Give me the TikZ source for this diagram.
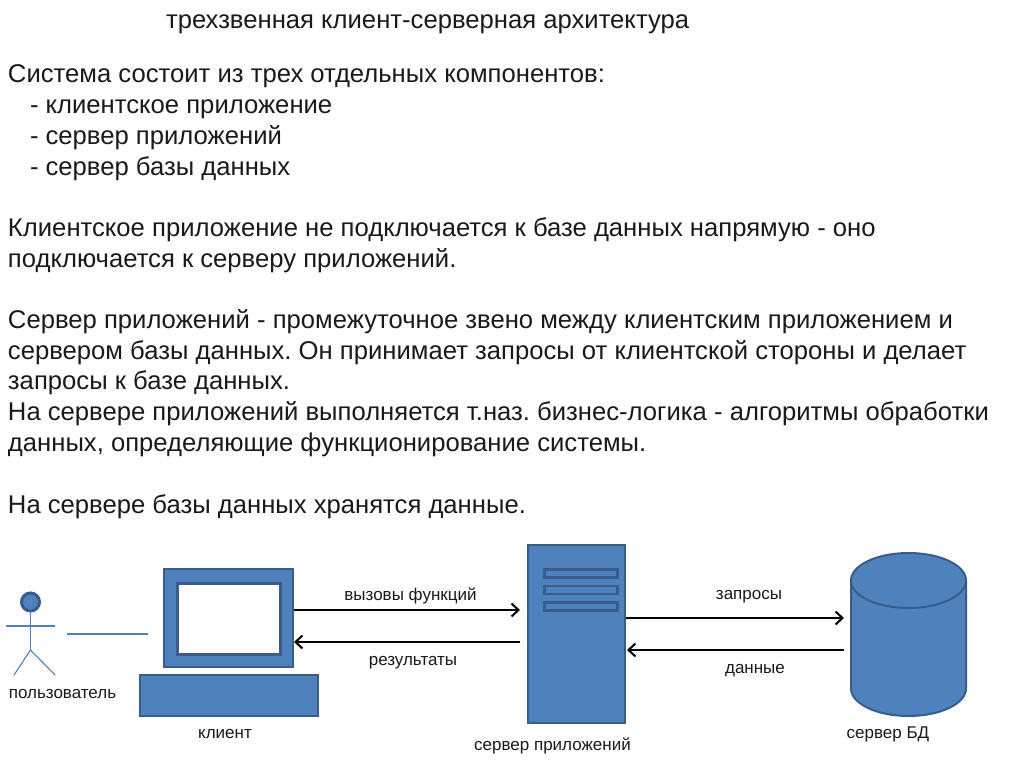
\documentclass[tikz,border=0pt]{standalone}
\usepackage{fontspec}
\setmainfont{Liberation Sans}
\usepackage{xcolor}
\usetikzlibrary{positioning,arrows.meta}
\definecolor{unitfill}{HTML}{4F81BD}
\definecolor{unitline}{HTML}{385D8A}
\definecolor{inktext}{HTML}{1A1A1A}
\frenchspacing

\begin{document}
\begin{tikzpicture}[
    x=1pt, y=-1pt,
    every node/.style={text=inktext, inner sep=0pt, outer sep=0pt},
    unit/.style={draw=unitline, line width=2pt, fill=unitfill},
    screen/.style={draw=unitline, line width=3pt, fill=white},
    slot/.style={draw=unitline, line width=2.6pt, fill=unitfill,
                 minimum width=73pt, minimum height=8pt},
    stick/.style={draw=unitfill, line width=1.1pt},
    arr/.style={-{Straight Barb[length=7pt,width=13pt]}, line width=2pt, black},
    para/.style={font=\fontsize{25.65}{30.7}\selectfont\frenchspacing, align=left, anchor=north west},
    lbl/.style={font=\fontsize{17}{20}\selectfont},
]
  \useasboundingbox (0,0) rectangle (1024,767);
  \fill[white] (0,0) rectangle (1024,767);
  % Text
  \node[para] (title) at (166,15) {трехзвенная клиент-серверная архитектура};
  \node[para] (parts) at (8,65) {Система состоит из трех отдельных компонентов:\\
    \hspace*{22pt}- клиентское приложение\\
    \hspace*{22pt}- сервер приложений\\
    \hspace*{22pt}- сервер базы данных};
  \node[para] (direct) at (8,218) {Клиентское приложение не подключается к базе данных напрямую - оно\\
    подключается к серверу приложений.};
  \node[para] (middle) at (8,309.5) {Сервер приложений - промежуточное звено между клиентским приложением и\\
    сервером базы данных. Он принимает запросы от клиентской стороны и делает\\
    запросы к базе данных.\\
    На сервере приложений выполняется т.наз. бизнес-логика - алгоритмы обработки\\
    данных, определяющие функционирование системы.};
  \node[para] (store) at (8,495) {На сервере базы данных хранятся данные.};
  % User
  \node[unit, circle, line width=3pt, minimum size=18pt] (head) at (30.5,602) {};
  \coordinate (hip) at (30.5,650);
  \coordinate (armL) at (6,626);
  \coordinate (armR) at (55,626);
  \coordinate (legL) at (14,675);
  \coordinate (legR) at (55,675);
  \draw[stick] (head) -- (hip);
  \draw[stick] (armL) -- (armR);
  \draw[stick] (legL) -- (hip) -- (legR);
  \node[lbl] (userlbl) at (62.5,694) {пользователь};
  \coordinate (userend) at (67,634);
  \coordinate (clientend) at (148,634);
  \draw[stick] (userend) -- (clientend);
  % Client
  \node[unit, minimum width=129pt, minimum height=98pt] (monitor) at (228.5,618) {};
  \node[screen, minimum width=103pt, minimum height=71pt] (display) at (229,619) {};
  \node[unit, minimum width=178pt, minimum height=41pt] (keyboard) at (229,695.5) {};
  \node[lbl] (clientlbl) at (225,734) {клиент};
  % Application server
  \node[unit, minimum width=97pt, minimum height=178pt] (appserver) at (576.5,634) {};
  \node[slot] (slot1) at (581,573.5) {};
  \node[slot, below=8.5pt of slot1] (slot2) {};
  \node[slot, below=8.5pt of slot2] (slot3) {};
  \node[lbl] (applbl) at (552.5,746) {сервер приложений};
  % Database
  \draw[unit, line join=round] (851,580.5) arc[start angle=180, end angle=360, x radius=57.5, y radius=27.5]
    -- (966,688.5) arc[start angle=0, end angle=180, x radius=57.5, y radius=27.5] -- cycle;
  \draw[draw=unitline, line width=2pt] (851,580.5) arc[start angle=180, end angle=0, x radius=57.5, y radius=27.5];
  \node[lbl] (dblbl) at (888,734) {сервер БД};
  % Arrows
  \coordinate (callA) at (294,610);
  \coordinate (callB) at (520,610);
  \coordinate (backA) at (520,642);
  \coordinate (backB) at (294,642);
  \coordinate (askA) at (626,618);
  \coordinate (askB) at (844,618);
  \coordinate (dataA) at (844,650);
  \coordinate (dataB) at (627,650);
  \draw[arr] (callA) -- (callB);
  \draw[arr] (backA) -- (backB);
  \draw[arr] (askA) -- (askB);
  \draw[arr] (dataA) -- (dataB);
  % Labels
  \node[lbl] (calllbl) at (410.5,596) {вызовы функций};
  \node[lbl] (backlbl) at (413,663) {результаты};
  \node[lbl] (asklbl) at (749,597) {запросы};
  \node[lbl] (datalbl) at (755,671) {данные};
\end{tikzpicture}
\end{document}
